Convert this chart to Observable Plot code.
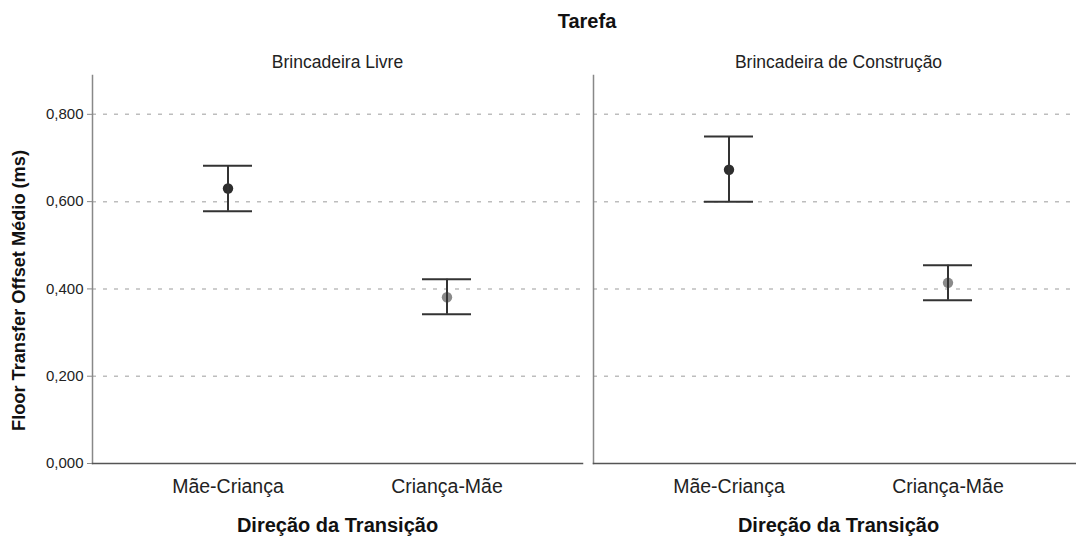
<!DOCTYPE html>
<html>
<head>
<meta charset="utf-8">
<script src="https://cdn.jsdelivr.net/npm/d3@7"></script>
<script src="https://cdn.jsdelivr.net/npm/@observablehq/plot@0.6"></script>
<style>
  html, body { margin: 0; padding: 0; background: #fff; overflow: hidden; width: 1076px; height: 541px; }
  #title { height: 40px; padding-top: 10px; line-height: 20px; box-sizing: border-box; padding-left: 98px; text-align: center;
           font: bold 20px "Liberation Sans", Arial, sans-serif; color: #111; width: 1076px; }
  #chart svg { display: block; overflow: visible; max-width: none !important; width: 1084px !important; height: 501px !important; }
</style>
</head>
<body>
<div id="title">Tarefa</div>
<div id="chart"></div>
<script>
// ---- data ----
const tasks = ["Brincadeira Livre", "Brincadeira de Construção"];
const directions = ["Mãe-Criança", "Criança-Mãe"];
// order: for each task, for each direction
const means = [0.630, 0.381, 0.673, 0.414];
const lower = [0.578, 0.342, 0.600, 0.374];
const upper = [0.682, 0.422, 0.749, 0.454];
const yTicks = [0, 0.2, 0.4, 0.6, 0.8];
const gridTicks = [0.2, 0.4, 0.6, 0.8];
const yLabel = "Floor Transfer Offset Médio (ms)";
const xLabel = "Direção da Transição";

const rows = [];
tasks.forEach((t, i) => directions.forEach((d, j) => {
  const k = i * directions.length + j;
  rows.push({task: t, dir: d, mean: means[k], lo: lower[k], hi: upper[k]});
}));

const font = '"Liberation Sans", Arial, sans-serif';

const chart = Plot.plot({
  width: 1084,
  height: 501,
  marginLeft: 91,
  marginRight: 0,
  marginTop: 35,
  marginBottom: 78,
  style: {fontFamily: font, color: "#222", background: "#fff"},
  fx: {domain: tasks, paddingInner: 0.0219, paddingOuter: 0, axis: null},
  x: {domain: directions, type: "band", paddingInner: 0.777, paddingOuter: 0.507},
  y: {domain: [0, 0.889]},
  marks: [
    Plot.ruleY(gridTicks, {stroke: "#bdbdbd", strokeWidth: 1.5, strokeDasharray: "4,7"}),
    Plot.frame({anchor: "left", stroke: "#888", strokeWidth: 1.5}),
    Plot.frame({anchor: "bottom", stroke: "#555", strokeWidth: 1.5}),
    Plot.axisY({ticks: yTicks, tickFormat: d => d.toFixed(3).replace(".", ","),
                tickSize: 5, tickPadding: 4, label: null, fontSize: 15, stroke: "#888"}),
    Plot.axisX({tickSize: 0, tickPadding: 16, label: null, fontSize: 19.5, style: {letterSpacing: "0.6px"}}),
    Plot.text(tasks, {fx: d => d, text: d => d, frameAnchor: "top", dy: -8, lineAnchor: "bottom",
                      fontSize: 17.5, fill: "#222"}),
    Plot.text([xLabel], {text: d => d, frameAnchor: "bottom", dy: 62, lineAnchor: "middle",
                         fontSize: 20, fontWeight: "bold", fill: "#111", style: {letterSpacing: "0.3px"}}),
    Plot.text([{t: tasks[0], label: yLabel}], {fx: "t", text: "label", frameAnchor: "left", rotate: -90,
                         textAnchor: "middle", dx: -73, dy: 21, lineAnchor: "middle", fontSize: 18.2,
                         fontWeight: "bold", fill: "#111", style: {letterSpacing: "-0.2px"}}),
    Plot.dot(rows, {fx: "task", x: "dir", y: "mean", r: 5.2, stroke: null,
                    fill: d => d.dir === directions[0] ? "#2e2e2e" : "#8a8a8a"}),
    Plot.ruleX(rows, {fx: "task", x: "dir", y1: "lo", y2: "hi", stroke: "#333", strokeWidth: 2}),
    Plot.tickY(rows, {fx: "task", x: "dir", y: "hi", stroke: "#333", strokeWidth: 2}),
    Plot.tickY(rows, {fx: "task", x: "dir", y: "lo", stroke: "#333", strokeWidth: 2})
  ]
});
document.getElementById("chart").appendChild(chart);
</script>
</body>
</html>
